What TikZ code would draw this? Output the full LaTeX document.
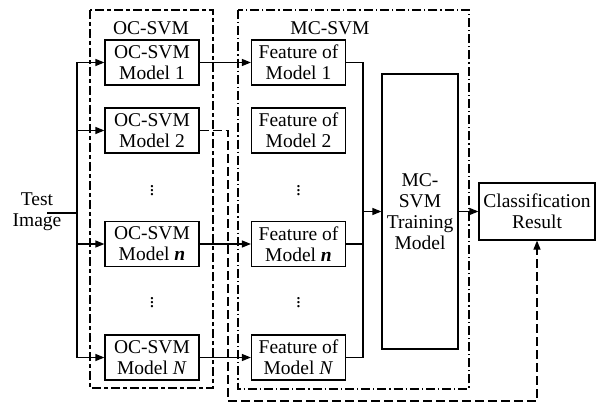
\documentclass[tikz,border=0pt]{standalone}
\usepackage{fontspec}
\setmainfont{Liberation Serif}
\usetikzlibrary{arrows.meta, positioning}
\tikzset{
>={Triangle[length=9pt,width=7pt]}, % filled arrow heads
every path/.style={line width=1.2pt},
modelbox/.style={draw, rectangle, minimum width=94pt, minimum height=45pt, align=center, inner sep=0pt},
trainbox/.style={draw, rectangle, minimum width=76pt, minimum height=275pt, align=center, inner sep=0pt},
resultbox/.style={draw, rectangle, minimum width=116pt, minimum height=57pt, align=center, inner sep=0pt},
ocframe/.style={draw, dash pattern=on 9pt off 3pt on 4pt off 3pt},
mcframe/.style={draw, dash pattern=on 9pt off 3pt on 1.2pt off 3pt},
backline/.style={dash pattern=on 9pt off 4pt},
dotsnode/.style={inner sep=0pt},
}

\begin{document}
\begin{tikzpicture}[
  x=1pt, y=-1pt,
  font=\fontsize{19.5}{21}\selectfont
]
  \useasboundingbox (0,0) rectangle (604,403);

  % dashed frames
  \draw[ocframe] (90,10) rectangle (213,388);
  \draw[mcframe] (238,10) rectangle (469,389);
  \node (octitle) at (151,28) {OC-SVM};
  \node (mctitle) at (330,28) {MC-SVM};

  % OC-SVM models
  \node[modelbox] (m1) at (152,62.5) {OC-SVM\\Model 1};
  \node[modelbox] (m2) at (152,130.5) {OC-SVM\\Model 2};
  \node[modelbox] (mn) at (152,244) {OC-SVM\\Model \textbf{\textit{n}}};
  \node[modelbox] (mN) at (152,357.5) {OC-SVM\\Model \textit{N}};
  \node[dotsnode] (d1) at (152,188) {$\vdots$};
  \node[dotsnode] (d2) at (152,300) {$\vdots$};

  % features
  \node[modelbox] (f1) at (298.5,62.5) {Feature of\\Model 1};
  \node[modelbox] (f2) at (298.5,130.5) {Feature of\\Model 2};
  \node[modelbox] (fn) at (298.5,244) {Feature of\\Model \textbf{\textit{n}}};
  \node[modelbox] (fN) at (298.5,357.5) {Feature of\\Model \textit{N}};
  \node[dotsnode] (d3) at (298.5,188) {$\vdots$};
  \node[dotsnode] (d4) at (298.5,300) {$\vdots$};

  \node[trainbox] (train) at (420,211.5) {MC-\\SVM\\Training\\Model};
  \node[resultbox] (result) at (537,211.5) {Classification\\Result};

  % input
  \node[align=center, inner sep=0pt] (test) at (37,212) {Test\\Image};
  \coordinate (in) at (47,213);
  \coordinate (split) at (77,213);
  \draw (in) -- (split);
  \draw (split |- m1) -- (split |- mN);
  \foreach \m in {m1,m2,mn,mN}
    \draw[->] (split |- \m) -- (\m.west);

  % models to features
  \draw[->] (m1) -- (f1);
  \draw[->] (mn) -- (fn);
  \draw[->] (mN) -- (fN);

  % features to training model
  \coordinate (merge) at (363,211.5);
  \draw (f1.east) -| (merge);
  \draw (fn.east) -| (merge);
  \draw (fN.east) -| (merge);
  \draw[->] (merge) -- (train.west);
  \draw[->] (train) -- (result);

  % model 2 to result
  \coordinate (c1) at (228,130.5);
  \coordinate (c2) at (228,401);
  \draw[backline, ->] (m2.east) -- (c1) -- (c2) -| (result.south);
\end{tikzpicture}
\end{document}
